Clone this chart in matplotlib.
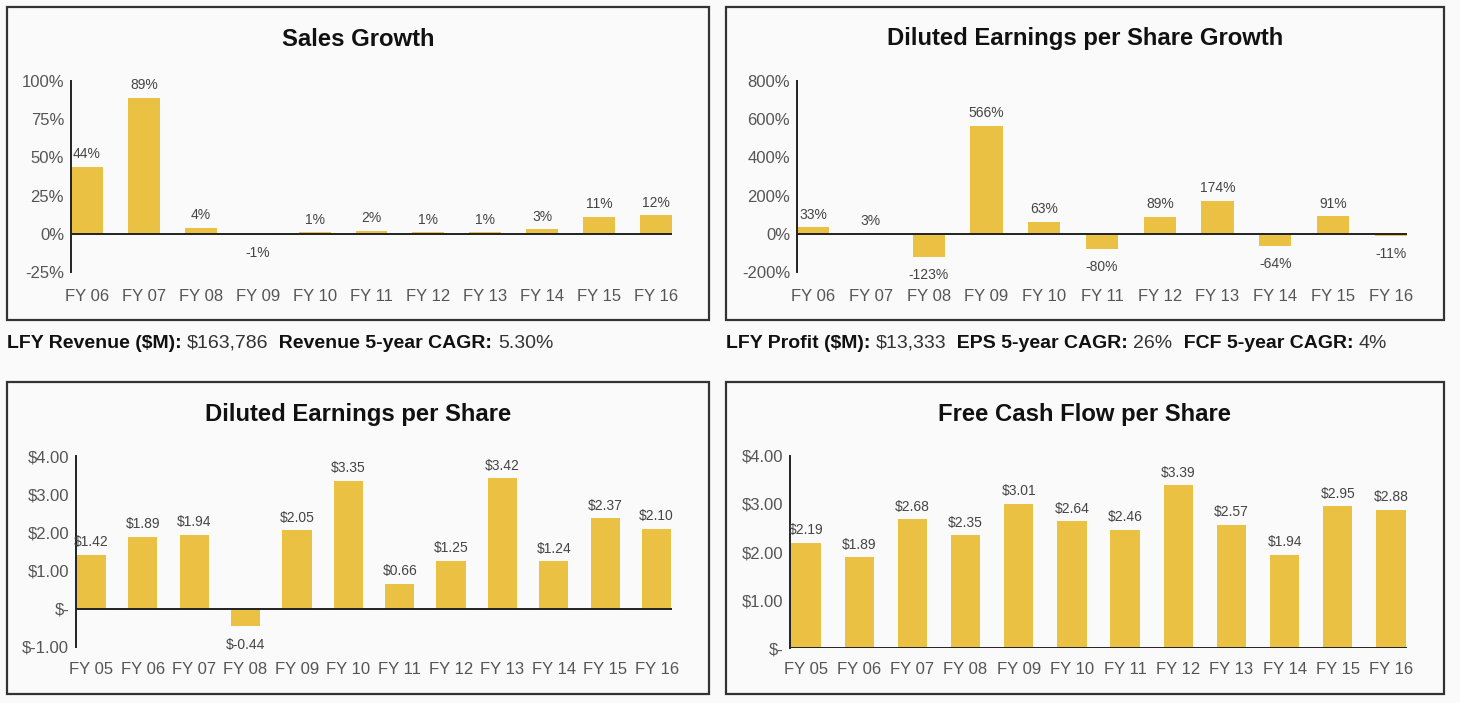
import matplotlib
matplotlib.use("Agg")
import matplotlib.pyplot as plt
from matplotlib.patches import Rectangle

# ---------------- data ----------------
sales_years = ["FY 06", "FY 07", "FY 08", "FY 09", "FY 10", "FY 11", "FY 12", "FY 13", "FY 14", "FY 15", "FY 16"]
sales_growth = [44, 89, 4, -1, 1, 2, 1, 1, 3, 11, 12]

eps_growth_years = ["FY 06", "FY 07", "FY 08", "FY 09", "FY 10", "FY 11", "FY 12", "FY 13", "FY 14", "FY 15", "FY 16"]
eps_growth = [33, 3, -123, 566, 63, -80, 89, 174, -64, 91, -11]

eps_years = ["FY 05", "FY 06", "FY 07", "FY 08", "FY 09", "FY 10", "FY 11", "FY 12", "FY 13", "FY 14", "FY 15", "FY 16"]
eps = [1.42, 1.89, 1.94, -0.44, 2.05, 3.35, 0.66, 1.25, 3.42, 1.24, 2.37, 2.10]

fcf_years = ["FY 05", "FY 06", "FY 07", "FY 08", "FY 09", "FY 10", "FY 11", "FY 12", "FY 13", "FY 14", "FY 15", "FY 16"]
fcf = [2.19, 1.89, 2.68, 2.35, 3.01, 2.64, 2.46, 3.39, 2.57, 1.94, 2.95, 2.88]

pct_ticks_sales = [-25, 0, 25, 50, 75, 100]
pct_ticks_eps = [-200, 0, 200, 400, 600, 800]
usd_ticks_eps = [-1, 0, 1, 2, 3, 4]
usd_ticks_fcf = [0, 1, 2, 3, 4]

line1 = [("LFY Revenue ($M): ", True), ("$163,786", False), ("  Revenue 5-year CAGR: ", True), ("5.30%", False)]
line2 = [("LFY Profit ($M): ", True), ("$13,333", False), ("  EPS 5-year CAGR: ", True), ("26%", False),
         ("  FCF 5-year CAGR: ", True), ("4%", False)]

# ---------------- style ----------------
W, H = 1460, 703
BG = "#fafafa"
BAR = "#EBC143"
TICK_C = "#555555"
LBL_C = "#444444"
FONT = "Liberation Sans"

plt.rcParams["font.family"] = [FONT, "DejaVu Sans"]

fig = plt.figure(figsize=(W / 100, H / 100), dpi=100, facecolor=BG)


def fx(px):
    return px / W


def fy(py):
    return 1 - py / H


def panel(x0, y0, x1, y1):
    fig.patches.append(Rectangle((fx(x0), fy(y1)), fx(x1 - x0), (y1 - y0) / H,
                                 transform=fig.transFigure, facecolor=BG,
                                 edgecolor="#333333", linewidth=1.6, zorder=-10))


def make_axes(l, t, r, b):
    ax = fig.add_axes([fx(l), fy(b), fx(r - l), (b - t) / H])
    ax.set_zorder(5)
    ax.set_facecolor("none")
    for s in ["top", "right", "bottom"]:
        ax.spines[s].set_visible(False)
    ax.spines["left"].set_linewidth(1.4)
    ax.spines["left"].set_color("#222222")
    ax.tick_params(length=0, labelsize=12, labelcolor=TICK_C)
    return ax


def draw_bars(ax, cats, vals, fmt, ticks, tickfmt, ylim, xpad, bw, xpad_lbl, neg_off):
    x = list(range(len(cats)))
    ax.bar(x, vals, width=bw, color=BAR, zorder=2)
    ax.axhline(0, color="#222222", linewidth=1.4, zorder=3)
    ax.set_xlim(-xpad, len(cats) - 1 + xpad)
    ax.set_ylim(*ylim)
    ax.set_yticks(ticks)
    ax.set_yticklabels([tickfmt(t) for t in ticks])
    ax.set_xticks(x)
    ax.set_xticklabels(cats)
    ax.tick_params(axis="x", pad=xpad_lbl)
    ax.tick_params(axis="y", pad=5)
    for xi, v in zip(x, vals):
        if v >= 0:
            ax.annotate(fmt(v), (xi, v), xytext=(0, 4), textcoords="offset points",
                        ha="center", va="bottom", fontsize=10, color=LBL_C)
        else:
            ax.annotate(fmt(v), (xi, v), xytext=(0, -neg_off), textcoords="offset points",
                        ha="center", va="top", fontsize=10, color=LBL_C)


def usd(v):
    return "$-" if v == 0 else f"${v:.2f}"


def usd_tick(v):
    return "$-" if v == 0 else f"${v:.2f}"


# panels
panel(7, 7, 709, 320)
panel(726, 7, 1444, 320)
panel(7, 382, 709, 694)
panel(726, 382, 1444, 694)

# titles
tkw = dict(ha="center", va="center", fontsize=17.2, fontweight="bold", color="#111111")
fig.text(fx(358), fy(39), "Sales Growth", **tkw)
fig.text(fx(1085), fy(39), "Diluted Earnings per Share Growth", **tkw)
fig.text(fx(358), fy(414), "Diluted Earnings per Share", **tkw)
fig.text(fx(1085), fy(414), "Free Cash Flow per Share", **tkw)

# axes
ax1 = make_axes(71, 81, 672, 272)
draw_bars(ax1, sales_years, sales_growth, lambda v: f"{v}%", pct_ticks_sales,
          lambda t: f"{t}%", (-25, 100), 0.28, 0.56, 12, 8)

ax2 = make_axes(797, 81, 1407, 272)
draw_bars(ax2, eps_growth_years, eps_growth, lambda v: f"{v}%", pct_ticks_eps,
          lambda t: f"{t}%", (-200, 800), 0.28, 0.56, 12, 8)

ax3 = make_axes(76, 456, 672, 647)
draw_bars(ax3, eps_years, eps, usd, usd_ticks_eps, usd_tick, (-1, 4), 0.3, 0.57, 11, 9)

ax4 = make_axes(790, 456, 1407, 648)
draw_bars(ax4, fcf_years, fcf, usd, usd_ticks_fcf, usd_tick, (0, 4), 0.3, 0.55, 10, 9)

# info lines with mixed bold / regular
fig.canvas.draw()
renderer = fig.canvas.get_renderer()


def rich_line(x_px, y_px, parts):
    x = x_px
    for txt, bold in parts:
        t = fig.text(fx(x), fy(y_px), txt, ha="left", va="center", fontsize=14,
                     fontweight="bold" if bold else "normal",
                     color="#111111" if bold else "#333333")
        bb = t.get_window_extent(renderer=renderer)
        x += bb.width


rich_line(7, 343, line1)
rich_line(726, 343, line2)

fig.savefig("out.png", dpi=100, facecolor=BG)
